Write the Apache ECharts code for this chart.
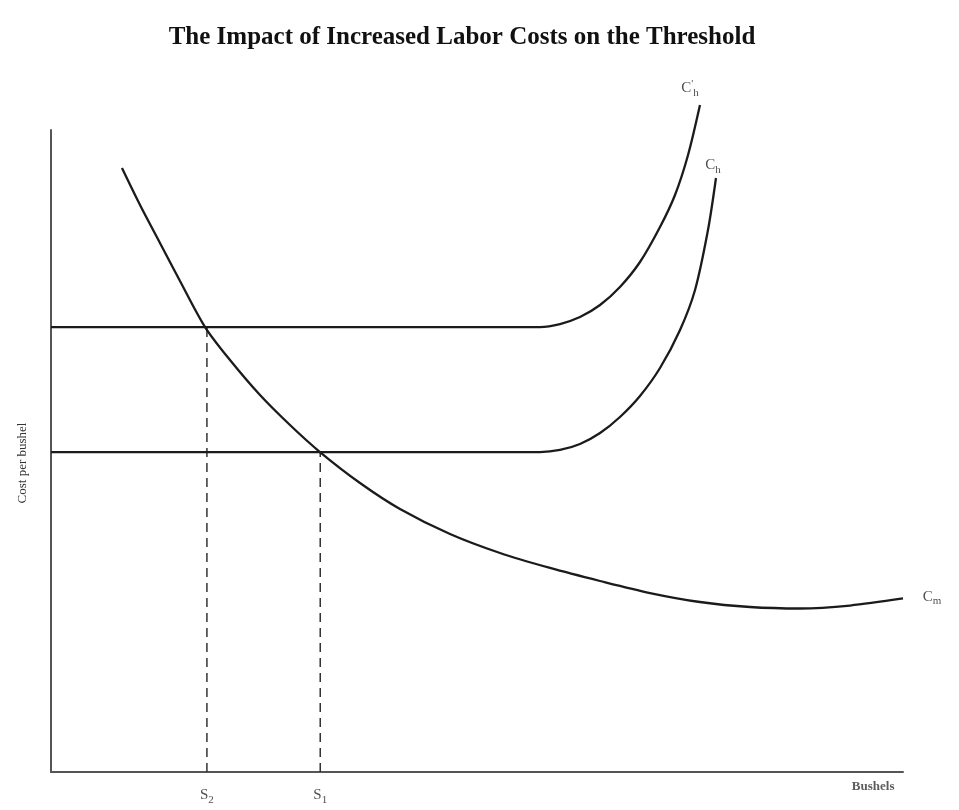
<!DOCTYPE html>
<html>
<head>
<meta charset="utf-8">
<script src="https://cdn.jsdelivr.net/npm/echarts@6/dist/echarts.min.js"></script>
<style>
html,body{margin:0;padding:0;background:#fff;}
#chart{width:959px;height:810px;}
</style>
</head>
<body>
<div id="chart"></div>
<script>
// Chart values (abstract units: x = bushels 0-100, y = cost per bushel 0-100)
var cmX = [8.33, 10.45, 12.79, 15.14, 18.08, 21.01, 24.53, 28.05, 31.57, 36.27, 40.96, 46.83, 52.70, 58.57, 64.44, 70.31, 76.17, 82.04, 87.91, 93.78, 100];
var cmY = [94.08, 88.32, 82.40, 76.48, 69.31, 64.17, 58.72, 54.05, 49.84, 45.02, 40.97, 37.07, 34.11, 31.78, 29.75, 27.88, 26.48, 25.70, 25.47, 25.93, 27.03];

var chX = [0, 50, 57.39, 59.74, 62.09, 64.44, 66.78, 69.13, 71.48, 73.83, 75.59, 77.11, 78.05];
var chY = [49.84, 49.84, 49.84, 50.16, 51.09, 52.80, 55.30, 58.57, 62.93, 68.85, 75.08, 84.42, 92.52];

var chpX = [0, 50, 57.39, 59.74, 62.09, 64.44, 66.78, 69.13, 71.48, 73.24, 74.77, 76.17];
var chpY = [69.31, 69.31, 69.31, 69.78, 70.87, 72.74, 75.55, 79.44, 84.89, 89.88, 96.11, 103.89];

var thresholdX = [18.3, 31.6];      // S2, S1
var thresholdY = [69.31, 49.84];    // C'h level, Ch level
var thresholdNames = ['2', '1'];

var title = 'The Impact of Increased Labor Costs on the Threshold';
var xName = 'Bushels';
var yName = 'Cost per bushel';

function zip(xs, ys) { return xs.map(function (x, i) { return [x, ys[i]]; }); }

var serif = '"Liberation Serif", "DejaVu Serif", serif';
var ink = '#1b1b1b';

var dashed = thresholdX.map(function (x, i) {
  return {
    type: 'line', data: [[x, 0], [x, thresholdY[i]]], symbol: 'none', silent: true,
    lineStyle: { color: '#333', width: 1.5, type: [9, 6] }, z: 1
  };
});

var curveStyle = { color: ink, width: 2.3 };
var hidden = { color: 'rgba(0,0,0,0)' };

var option = {
  backgroundColor: '#ffffff',
  animation: false,
  title: {
    text: title, left: 457, top: 20, textAlign: 'center',
    textStyle: { fontFamily: serif, fontWeight: 'bold', fontSize: 25, color: '#111' }
  },
  grid: { left: 51, right: 56, top: 130, bottom: 38, containLabel: false },
  xAxis: {
    type: 'value', min: 0, max: 100,
    axisLine: { show: true, lineStyle: { color: '#555', width: 2 } },
    axisTick: { show: false }, axisLabel: { show: false }, splitLine: { show: false }
  },
  yAxis: {
    type: 'value', min: 0, max: 100,
    name: yName, nameLocation: 'middle', nameGap: 22, nameRotate: 90,
    nameTextStyle: { fontFamily: serif, fontSize: 13, color: '#333', padding: [0, 24, 0, 0] },
    axisLine: { show: true, lineStyle: { color: '#555', width: 2 } },
    axisTick: { show: false }, axisLabel: { show: false }, splitLine: { show: false }
  },
  series: dashed.concat([
    { type: 'line', name: 'Cm', data: zip(cmX, cmY), smooth: 0.3, symbol: 'none', clip: false, lineStyle: curveStyle, z: 3 },
    { type: 'line', name: 'Ch', data: zip(chX, chY), smooth: 0.3, symbol: 'none', clip: false, lineStyle: curveStyle, z: 3 },
    { type: 'line', name: "C'h", data: zip(chpX, chpY), smooth: 0.3, symbol: 'none', clip: false, lineStyle: curveStyle, z: 3 },
    {
      type: 'scatter', symbol: 'circle', symbolSize: 1, itemStyle: hidden, clip: false, silent: true,
      data: thresholdX.map(function (x, i) {
        return { value: [x, 0], label: { formatter: '{s|S}{sub|' + thresholdNames[i] + '}' } };
      }),
      label: {
        show: true, position: 'bottom', distance: 12, color: '#222',
        rich: {
          s: { fontFamily: serif, fontSize: 15, color: '#222' },
          sub: { fontFamily: serif, fontSize: 11, color: '#222', padding: [10, 0, 0, 0] }
        }
      }
    },
    {
      type: 'scatter', symbol: 'circle', symbolSize: 1, itemStyle: hidden, clip: false, silent: true,
      data: [
        { value: [75.0, 106.5], label: { formatter: "{c|C}{pr|'}{sub|h}" } },
        { value: [77.7, 94.5], label: { formatter: '{c|C}{sub|h}' } },
        { value: [103.4, 27.3], label: { formatter: '{c|C}{sub|m}' } },
        { value: [96.5, -2.3], label: { formatter: '{b|' + xName + '}' } }
      ],
      label: {
        show: true, position: 'inside', color: '#222',
        rich: {
          c: { fontFamily: serif, fontSize: 15, color: '#222' },
          sub: { fontFamily: serif, fontSize: 11, color: '#222', padding: [9, 0, 0, 0] },
          pr: { fontFamily: serif, fontSize: 11, color: '#222', padding: [0, 0, 8, 0] },
          b: { fontFamily: serif, fontSize: 13, fontWeight: 'bold', color: '#333' }
        }
      }
    }
  ])
};

var chart = echarts.init(document.getElementById('chart'), null, { renderer: 'canvas' });
chart.setOption(option);
</script>
</body>
</html>
